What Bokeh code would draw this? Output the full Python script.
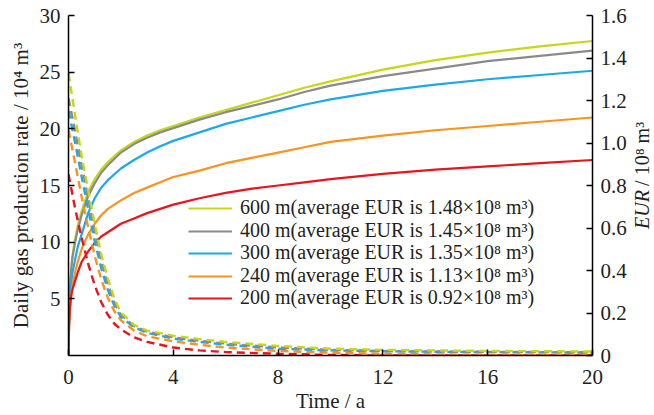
import math
from bokeh.plotting import figure
from bokeh.layouts import row
from bokeh.models import Range1d, LinearAxis, Legend, LegendItem, FixedTicker
from bokeh.core.properties import value
from bokeh.embed import file_html
from bokeh.resources import INLINE

# ---- data ----
t = [0, 0.02, 0.05, 0.1, 0.15, 0.25, 0.35, 0.5, 0.75, 1.0, 1.25, 1.5, 2.0, 2.5, 3.0, 3.5, 4.0,
     5.0, 6.0, 7.0, 8.0, 9.0, 10.0, 12.0, 14.0, 16.0, 18.0, 20.0]
eur_600 = [0, 0.18, 0.30, 0.40, 0.47, 0.55, 0.61, 0.68, 0.77, 0.83, 0.875, 0.91, 0.965, 1.005, 1.035, 1.06, 1.08,
           1.12, 1.155, 1.19, 1.225, 1.26, 1.29, 1.345, 1.39, 1.425, 1.455, 1.48]
eur_400 = [0, 0.18, 0.30, 0.40, 0.46, 0.53, 0.59, 0.66, 0.75, 0.81, 0.86, 0.895, 0.955, 0.995, 1.025, 1.05, 1.07,
           1.11, 1.145, 1.175, 1.205, 1.24, 1.27, 1.315, 1.35, 1.385, 1.41, 1.435]
eur_300 = [0, 0.14, 0.25, 0.33, 0.39, 0.45, 0.51, 0.57, 0.67, 0.74, 0.79, 0.825, 0.88, 0.92, 0.955, 0.985, 1.01,
           1.05, 1.09, 1.12, 1.15, 1.18, 1.205, 1.245, 1.275, 1.30, 1.32, 1.34]
eur_240 = [0, 0.12, 0.20, 0.28, 0.33, 0.39, 0.44, 0.50, 0.57, 0.62, 0.66, 0.69, 0.73, 0.765, 0.79, 0.815, 0.84,
           0.87, 0.905, 0.93, 0.955, 0.98, 1.005, 1.035, 1.06, 1.08, 1.10, 1.12]
eur_200 = [0, 0.14, 0.22, 0.28, 0.31, 0.35, 0.39, 0.44, 0.49, 0.53, 0.56, 0.58, 0.62, 0.645, 0.67, 0.69, 0.71,
           0.74, 0.765, 0.785, 0.80, 0.815, 0.83, 0.855, 0.875, 0.89, 0.905, 0.92]

tq = [0, 0.25, 0.5, 0.75, 1.0, 1.25, 1.5, 1.75, 2.0, 2.5, 3.0, 4.0, 5.0, 6.0, 8.0, 10.0, 12.0, 14.0, 16.0, 18.0, 20.0]
q_600 = [24.9, 21.2, 17.6, 14.6, 11.6, 8.9, 6.8, 5.0, 3.8, 2.7, 2.2, 1.75, 1.45, 1.2, 0.85, 0.6, 0.5, 0.45, 0.4, 0.38, 0.35]
q_400 = [22.7, 19.8, 16.8, 13.9, 11.0, 8.4, 6.3, 4.7, 3.6, 2.6, 2.1, 1.6, 1.3, 1.05, 0.7, 0.5, 0.4, 0.35, 0.32, 0.3, 0.28]
q_300 = [21.6, 18.8, 15.8, 12.9, 10.1, 7.7, 5.8, 4.4, 3.4, 2.5, 2.0, 1.5, 1.2, 0.95, 0.6, 0.45, 0.38, 0.33, 0.3, 0.28, 0.26]
q_240 = [19.9, 17.0, 14.0, 11.3, 8.8, 6.7, 5.1, 3.9, 3.1, 2.2, 1.7, 1.25, 0.95, 0.7, 0.4, 0.25, 0.15, 0.1, 0.05, 0.02, 0.0]
q_200 = [16.0, 13.0, 10.4, 8.1, 6.2, 4.7, 3.6, 2.8, 2.3, 1.6, 1.2, 0.7, 0.45, 0.3, 0.15, 0.05, 0.0, 0.0, 0.0, 0.0, 0.0]

labels = [
    "600 m(average EUR is 1.48×10⁸ m³)",
    "400 m(average EUR is 1.45×10⁸ m³)",
    "300 m(average EUR is 1.35×10⁸ m³)",
    "240 m(average EUR is 1.13×10⁸ m³)",
    "200 m(average EUR is 0.92×10⁸ m³)",
]
colors = ["#c5d716", "#8a8a8a", "#1ea8ec", "#f7931e", "#e8141e"]
x_ticks = [0, 4, 8, 12, 16, 20]
left_ticks = [5, 10, 15, 20, 25, 30]
right_ticks = [0, 0.2, 0.4, 0.6, 0.8, 1.0, 1.2, 1.4, 1.6]
right_tick_labels = ["0", "0.2", "0.4", "0.6", "0.8", "1.0", "1.2", "1.4", "1.6"]
x_title = "Time / a"
left_title = "Daily gas production rate / 10⁴ m³"
right_title_italic = "EUR"
right_title_rest = "/ 10⁸ m³"

FONT = "Liberation Serif"
TXT = "#231f20"

p = figure(frame_width=524, frame_height=340, output_backend="svg", toolbar_location=None,
           x_range=Range1d(0, 20), y_range=Range1d(0, 30),
           min_border_left=68, min_border_right=38, min_border_top=15, min_border_bottom=60)
p.extra_y_ranges = {"eur": Range1d(0, 1.6)}
p.grid.visible = False
p.outline_line_color = None
p.background_fill_color = "white"
p.border_fill_color = "white"

eurs = [eur_600, eur_400, eur_300, eur_240, eur_200]
qs = [q_600, q_400, q_300, q_240, q_200]

solid_r = []
for e, c in zip(eurs, colors):
    r = p.line(t, e, line_color=c, line_width=2.2, y_range_name="eur")
    solid_r.append(r)
for q, c in zip(qs[::-1], colors[::-1]):
    p.line(tq, q, line_color=c, line_width=2.4, line_dash="8 5")

def style_axis(ax):
    ax.axis_line_color = "black"
    ax.axis_line_width = 1.5
    ax.major_tick_line_color = "black"
    ax.major_tick_line_width = 1.5
    ax.major_tick_in = 6
    ax.major_tick_out = 0
    ax.minor_tick_line_color = None
    ax.major_label_text_font = FONT
    ax.major_label_text_font_size = "21px"
    ax.major_label_text_color = TXT
    ax.axis_label_text_font = FONT
    ax.axis_label_text_font_size = "21px"
    ax.axis_label_text_font_style = "normal"
    ax.axis_label_text_color = TXT

xa = p.xaxis[0]
style_axis(xa)
xa.ticker = FixedTicker(ticks=x_ticks)
xa.axis_label = x_title
xa.axis_label_standoff = 2
xa.major_label_standoff = 14

ya = p.yaxis[0]
style_axis(ya)
ya.ticker = FixedTicker(ticks=left_ticks)
ya.axis_label = left_title
ya.axis_label_standoff = 4
ya.major_label_standoff = 8

ra = LinearAxis(y_range_name="eur")
style_axis(ra)
ra.ticker = FixedTicker(ticks=right_ticks)
ra.major_label_overrides = {v: s for v, s in zip(right_ticks, right_tick_labels)}
ra.major_label_standoff = 8
p.add_layout(ra, "right")

# one single-row legend per series, stacked with the reference's tight row spacing
legend_rows_y = [136, 113, 91, 68, 46]
for lab, r, ly in zip(labels, solid_r, legend_rows_y):
    lg = Legend(items=[LegendItem(label=lab, renderers=[r])], location=(120, ly))
    lg.label_text_font = FONT
    lg.label_text_font_size = "20px"
    lg.label_text_color = TXT
    lg.glyph_width = 44
    lg.glyph_height = 20
    lg.label_standoff = 8
    lg.padding = 0
    lg.margin = 0
    lg.border_line_color = None
    lg.background_fill_alpha = 0
    p.add_layout(lg)

# right-hand axis title (bottom-to-top, italic EUR)
p2 = figure(width=24, height=415, output_backend="svg", toolbar_location=None,
            x_range=Range1d(0, 1), y_range=Range1d(0, 415),
            min_border_left=0, min_border_right=0, min_border_top=0, min_border_bottom=0)
p2.axis.visible = False
p2.grid.visible = False
p2.outline_line_color = None
p2.border_fill_color = "white"
p2.text(x=[0.46], y=[202], text=[right_title_italic], angle=math.pi / 2,
        text_align="right", text_baseline="middle", text_font=value(FONT),
        text_font_style="italic", text_font_size="20px", text_color=TXT)
p2.text(x=[0.46], y=[207], text=[right_title_rest], angle=math.pi / 2,
        text_align="left", text_baseline="middle", text_font=value(FONT),
        text_font_size="20px", text_color=TXT)

layout = row(p, p2, spacing=0)
open("out.html", "w").write(file_html(layout, INLINE))
